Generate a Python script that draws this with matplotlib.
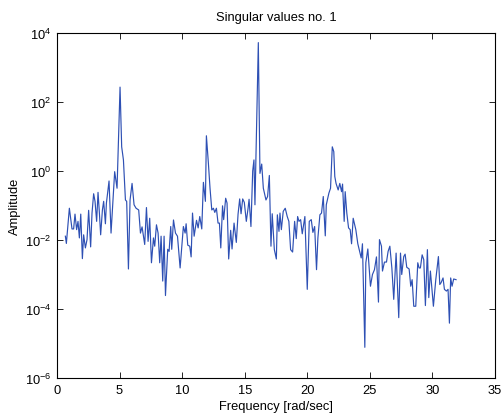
import numpy as np
import matplotlib
matplotlib.use("Agg")
import matplotlib.pyplot as plt

plt.rcParams['font.family'] = ['Liberation Sans', 'DejaVu Sans']

title = "Singular values no. 1"
xlabel = "Frequency [rad/sec]"
ylabel = "Amplitude"
x_ticks = [0, 5, 10, 15, 20, 25, 30, 35]
y_ticks = [1e-6, 1e-4, 1e-2, 1e0, 1e2, 1e4]

freq = [0.67, 0.75, 0.99, 1.2, 1.33, 1.44, 1.57, 1.68, 1.79, 1.9, 2.03, 2.13, 2.27, 2.4, 2.53, 2.69, 2.8, 2.93,
        3.04, 3.17, 3.28, 3.39, 3.49, 3.63, 3.73, 3.87, 3.95, 4.16, 4.32, 4.45, 4.61, 4.8, 5.04, 5.17, 5.31, 5.47,
        5.57, 5.71, 5.84, 6.0, 6.16, 6.32, 6.53, 6.67, 6.8, 7.01, 7.15, 7.28, 7.41, 7.55, 7.71, 7.81, 7.95, 8.08,
        8.21, 8.32, 8.45, 8.56, 8.67, 8.85, 8.96, 9.09, 9.17, 9.31, 9.47, 9.63, 9.84, 10.1, 10.24, 10.32, 10.45,
        10.61, 10.72, 10.83, 10.96, 11.15, 11.28, 11.41,
        11.57, 11.70, 11.86, 11.94, 12.1, 12.23, 12.37, 12.5, 12.61, 12.74, 12.87, 12.98, 13.09, 13.23, 13.32,
        13.48, 13.59, 13.72, 13.88, 13.99, 14.15, 14.33, 14.47, 14.6, 14.71, 14.84, 14.97, 15.13, 15.27, 15.35,
        15.5, 15.64, 15.74, 15.82, 16.09, 16.22, 16.36, 16.49, 16.7, 16.83, 16.97, 17.1, 17.2, 17.37, 17.53,
        17.61, 17.74, 17.82, 17.93, 18.08, 18.24, 18.4, 18.53, 18.67, 18.83, 18.99, 19.12, 19.23, 19.34, 19.47,
        19.6, 19.81, 20.0, 20.16, 20.32, 20.45, 20.59, 20.74, 20.85, 21.01, 21.14, 21.28, 21.33, 21.44, 21.52,
        21.73, 21.86, 22.0, 22.12,
        22.2, 22.3, 22.47, 22.6, 22.74, 22.82, 22.95, 23.03, 23.16, 23.3, 23.43, 23.54, 23.67, 23.88, 24.04,
        24.12, 24.31, 24.41, 24.6, 24.68, 24.84, 25.05, 25.21, 25.37, 25.53, 25.69, 25.77, 25.93, 26.01, 26.17,
        26.33, 26.46, 26.6, 26.76, 26.91, 27.1, 27.31, 27.45, 27.55, 27.71, 27.82, 27.95, 28.14, 28.27, 28.38,
        28.51, 28.67, 28.83, 28.94, 29.04, 29.18, 29.31, 29.44, 29.6, 29.71, 29.84, 30.08, 30.27, 30.48, 30.59,
        30.69, 30.85, 30.96, 31.12, 31.25, 31.36, 31.46, 31.57, 31.7, 31.89]

log_amp = [-1.89, -2.1, -1.08, -1.68, -1.68, -1.25, -1.70, -1.46, -1.94, -1.25, -2.54, -1.85, -2.23, -1.99, -1.14,
           -2.20, -1.22, -0.66, -0.88, -1.46, -0.62, -1.22, -1.85, -1.13, -0.88, -1.53, -0.93, -0.29, -1.80, -0.98,
           -0.02, -0.5, 2.43, 0.70, 0.32, -0.84, -0.88, -2.84, -0.84, -0.36, -0.98, -1.08, -1.13, -1.80, -1.62,
           -2.13, -1.06, -2.04, -1.37, -2.66, -1.94, -2.18, -1.56, -1.80, -2.66, -1.89, -3.19, -1.89, -3.61, -2.27,
           -2.33, -1.61, -2.27, -1.42, -1.80, -1.89, -2.81, -1.61, -1.80, -1.53, -2.15, -2.18, -2.49, -1.22, -1.89,
           -1.43, -1.65, -1.32,
           -1.68, -0.33, -0.88, 1.02, 0.22, -0.5, -1.13, -1.08, -1.20, -1.08, -1.51, -1.51, -2.23, -1.01, -1.41,
           -0.79, -0.93, -2.55, -1.72, -2.26, -1.51, -2.07, -1.25, -0.81, -1.24, -0.81, -0.91, -1.46, -1.08, -0.82,
           -1.61, 0.0, 0.32, -0.98, 3.72, -0.07, 0.20, -0.5, -0.84, -0.74, -0.13, -2.18, -1.24, -2.28, -2.55,
           -1.27, -1.75, -1.22, -1.70, -1.17, -1.08, -1.32, -1.46, -2.28, -2.35, -1.46, -1.96, -1.32, -1.46, -1.41,
           -1.82, -1.32, -3.43, -1.46, -1.41, -1.78, -1.61, -2.86, -1.94, -1.27, -1.22, -0.74, -1.13, -1.88, -0.98,
           -0.64, -0.5, 0.70, 0.56,
           -0.16, -0.36, -0.55, -0.36, -0.60, -0.38, -1.46, -0.60, -1.22, -1.65, -1.70, -2.11, -1.37, -1.70, -2.11,
           -2.23, -2.52, -2.11, -5.11, -2.66, -2.26, -3.34, -3.0, -2.86, -2.49, -3.80, -1.99, -2.18, -2.90, -2.64,
           -2.64, -2.33, -2.18, -2.81, -3.72, -2.38, -4.25, -2.38, -3.0, -2.48, -2.41, -2.79, -2.84, -3.34, -3.15,
           -3.92, -3.92, -2.66, -2.81, -2.81, -2.43, -2.57, -3.90, -2.28, -3.67, -2.90, -3.92, -3.15, -2.48, -3.29,
           -3.24, -3.10, -3.43, -3.48, -3.43, -4.41, -3.10, -3.34, -3.13, -3.15]

amplitude = 10.0 ** np.array(log_amp)

fs = 9.3
fig = plt.figure(figsize=(5.02, 4.14), dpi=100)
ax = fig.add_axes([0.1135, 0.0845, 0.8725, 0.8335])
ax.plot(freq, amplitude, color='#2e50b4', linewidth=0.85)
ax.set_yscale('log')
ax.set_xlim(0, 35)
ax.set_ylim(1e-6, 1e4)
ax.set_xticks(x_ticks)
ax.set_yticks(y_ticks)
ax.yaxis.set_minor_locator(matplotlib.ticker.NullLocator())
ax.tick_params(direction='in', top=True, right=True, labelsize=fs, length=4, width=0.6, pad=4)
for s in ax.spines.values():
    s.set_linewidth(0.8)
ax.set_title(title, fontsize=fs, pad=9)
ax.set_xlabel(xlabel, fontsize=fs, labelpad=3)
ax.set_ylabel(ylabel, fontsize=fs, labelpad=3)
fig.savefig('out.png', dpi=100)
